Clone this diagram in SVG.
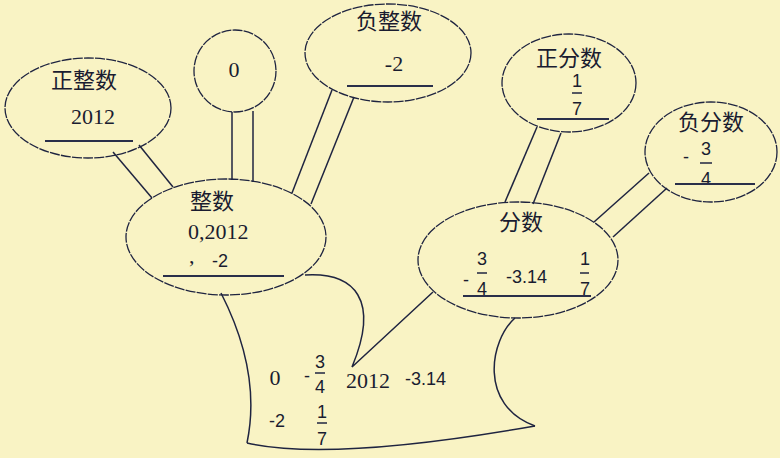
<svg xmlns="http://www.w3.org/2000/svg" width="780" height="458" viewBox="0 0 780 458">
<style>
.bg{fill:#F9F3C4}
.el{fill:none;stroke:#1f2440;stroke-width:1.3;stroke-dasharray:10 1.2}
.ln{fill:none;stroke:#1f2440;stroke-width:1.5}
.ul{stroke:#2a2f4a;stroke-width:2}
.fb{stroke:#1f2440;stroke-width:1.5}
.cn{font-family:"Noto Sans CJK SC","Noto Sans",sans-serif;font-size:22px;fill:#1a1c30;text-anchor:middle}
.sf{font-family:"Liberation Serif",serif;font-size:22px;fill:#1a1c30}
.ss{font-family:"Liberation Sans",sans-serif;font-size:18px;fill:#1a1c30}
.m{text-anchor:middle}
</style>
<rect class="bg" x="0" y="0" width="780" height="458"/>
<g id="connectors">
<line class="ln" x1="113" y1="152" x2="152" y2="198"/>
<line class="ln" x1="139" y1="145" x2="173" y2="187"/>
<line class="ln" x1="232" y1="112" x2="232" y2="180"/>
<line class="ln" x1="253" y1="111" x2="253" y2="182"/>
<line class="ln" x1="332" y1="90" x2="292" y2="193"/>
<line class="ln" x1="354" y1="97" x2="311" y2="204"/>
<line class="ln" x1="537" y1="127" x2="505" y2="202"/>
<line class="ln" x1="561" y1="133" x2="533" y2="204"/>
<line class="ln" x1="649" y1="173" x2="594" y2="222"/>
<line class="ln" x1="667" y1="188" x2="613" y2="237"/>
</g>
<g id="trunk">
<path class="ln" d="M221,293 C245,340 258,390 247,443"/>
<path class="ln" d="M247,443 Q330,462 535,426"/>
<path class="ln" d="M515,318 C490,340 478,405 535,426"/>
<path class="ln" d="M305,275 C355,272 380,300 352,367 L433,292"/>
<text class="sf" x="275" y="385" text-anchor="middle" font-size="20">0</text>
<text class="ss" x="304" y="382">-</text>
<text class="ss m" x="320" y="368">3</text>
<line class="fb" x1="315" y1="373" x2="325" y2="373"/>
<text class="ss m" x="320" y="393">4</text>
<text class="sf" x="346" y="388">2012</text>
<text class="ss" x="405" y="385" font-size="19">-3.14</text>
<text class="ss" x="269" y="427">-2</text>
<text class="ss m" x="322" y="418">1</text>
<line class="fb" x1="317" y1="423" x2="327" y2="423"/>
<text class="ss m" x="322" y="445">7</text>
</g>
<g id="positive-integer">
<ellipse class="el" cx="88" cy="108" rx="83" ry="50"/>
<text class="cn" x="84" y="88">正整数</text>
<text class="sf m" x="93" y="124">2012</text>
<line class="ul" x1="45" y1="141" x2="133" y2="141"/>
</g>
<g id="zero">
<circle class="el" cx="235" cy="71" r="41"/>
<text class="sf m" x="234" y="77">0</text>
</g>
<g id="negative-integer">
<ellipse class="el" cx="388" cy="53" rx="83" ry="49"/>
<text class="cn" x="389" y="29">负整数</text>
<text class="sf m" x="394" y="71">-2</text>
<line class="ul" x1="347" y1="86" x2="433" y2="86"/>
</g>
<g id="integer">
<ellipse class="el" cx="226" cy="237" rx="100" ry="58"/>
<text class="cn" x="212" y="209">整数</text>
<text class="sf" x="188" y="239" font-size="23">0,2012</text>
<text class="sf" x="189" y="263" font-size="23">,</text>
<text class="ss" x="212" y="267">-2</text>
<line class="ul" x1="163" y1="276" x2="284" y2="276"/>
</g>
<g id="fraction">
<ellipse class="el" cx="518" cy="260" rx="100" ry="58"/>
<text class="cn" x="521" y="230">分数</text>
<text class="ss" x="463" y="286">-</text>
<text class="ss m" x="482" y="265">3</text>
<line class="fb" x1="477" y1="273" x2="487" y2="273"/>
<text class="ss m" x="482" y="295">4</text>
<text class="ss" x="506" y="283" font-size="19">-3.14</text>
<text class="ss m" x="585" y="265">1</text>
<line class="fb" x1="580" y1="273" x2="589" y2="273"/>
<text class="ss m" x="585" y="295">7</text>
<line class="ul" x1="463" y1="296" x2="591" y2="296"/>
</g>
<g id="positive-fraction">
<ellipse class="el" cx="569" cy="83" rx="67" ry="49"/>
<text class="cn" x="569" y="66">正分数</text>
<text class="ss m" x="577" y="87">1</text>
<line class="fb" x1="572" y1="93" x2="582" y2="93"/>
<text class="ss m" x="577" y="115">7</text>
<line class="ul" x1="537" y1="119" x2="609" y2="119"/>
</g>
<g id="negative-fraction">
<ellipse class="el" cx="711" cy="152" rx="66" ry="50"/>
<text class="cn" x="711" y="130">负分数</text>
<text class="ss" x="683" y="163">-</text>
<text class="ss m" x="706" y="155">3</text>
<line class="fb" x1="700" y1="163" x2="712" y2="163"/>
<text class="ss m" x="706" y="185">4</text>
<line class="ul" x1="675" y1="184" x2="755" y2="184"/>
</g>
</svg>
